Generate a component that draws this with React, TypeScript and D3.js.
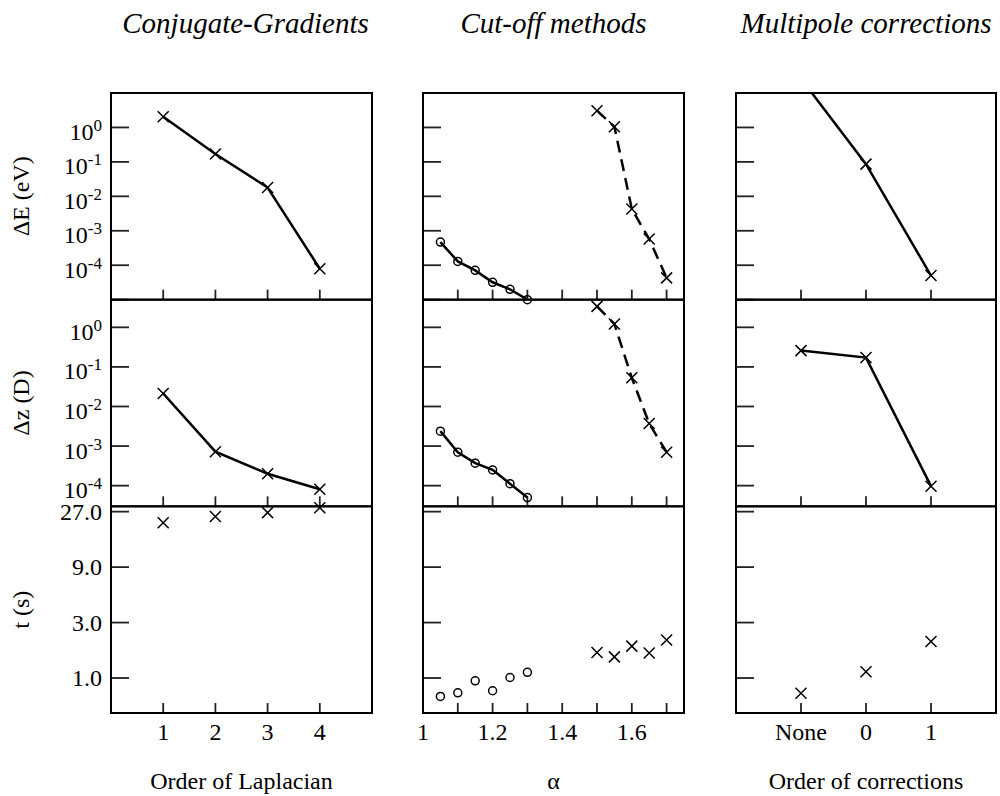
import React from "react";
import * as d3 from "d3";

// ---------- data ----------
const cgOrders = [1, 2, 3, 4];
const cgEnergy = [2.05, 0.17, 0.018, 7.9e-5];
const cgDipole = [0.0213, 7.2e-4, 2.0e-4, 8.1e-5];
const cgTime = [21.7, 24.5, 26.5, 29.2];

const cutAlphaLow = [1.05, 1.1, 1.15, 1.2, 1.25, 1.3];
const cutEnergyLow = [4.7e-4, 1.29e-4, 7.1e-5, 3.2e-5, 2.0e-5, 1.0e-5];
const cutDipoleLow = [2.38e-3, 7.0e-4, 3.7e-4, 2.5e-4, 1.12e-4, 5.0e-5];
const cutTimeLow = [0.695, 0.746, 0.946, 0.777, 1.01, 1.12];
const cutAlphaHigh = [1.5, 1.55, 1.6, 1.65, 1.7];
const cutEnergyHigh = [3.07, 1.05, 4.3e-3, 5.75e-4, 4.3e-5];
const cutDipoleHigh = [3.39, 1.22, 0.053, 3.7e-3, 7.0e-4];
const cutTimeHigh = [1.66, 1.52, 1.88, 1.64, 2.12];

const mpLabels = ["None", "0", "1"];
const mpPos = [1, 2, 3];
const mpEnergy = [26, 0.086, 5e-5];
const mpDipole = [0.258, 0.172, 9.7e-5];
const mpTime = [0.74, 1.13, 2.06];

const panelTitles = ["Conjugate-Gradients", "Cut-off methods", "Multipole corrections"];
const xTitles = ["Order of Laplacian", "α", "Order of corrections"];
const rowTitles = ["ΔE (eV)", "Δz (D)", "t (s)"];

const energyTicks = [10, 1, 0.1, 0.01, 1e-3, 1e-4, 1e-5];
const energyLabels = [
  { v: 1, e: "0" },
  { v: 0.1, e: "-1" },
  { v: 0.01, e: "-2" },
  { v: 1e-3, e: "-3" },
  { v: 1e-4, e: "-4" },
];
const dipoleTicks = [1, 0.1, 0.01, 1e-3, 1e-4];
const timeTicks = [27, 9, 3, 1];
const timeLabels = ["27.0", "9.0", "3.0", "1.0"];

const cgXTicks = [1, 2, 3, 4];
const cutXTicks = [1.1, 1.2, 1.3, 1.4, 1.5, 1.6, 1.7];
const cutXLabels = [1, 1.2, 1.4, 1.6];

// ---------- layout ----------
const FONT = "'Liberation Serif', 'Times New Roman', serif";
const TOP = 93;
const BOTTOM = 713;
const ROWH = (BOTTOM - TOP) / 3;
const panelsX: [number, number][] = [
  [111, 372],
  [423, 684],
  [736, 996],
];
const rowDomains: [number, number][] = [
  [1e-5, 10],
  [3e-5, 5],
  [0.5, 30],
];

const xScales = [
  d3.scaleLinear().domain([0, 5]).range(panelsX[0]),
  d3.scaleLinear().domain([1, 1.75]).range(panelsX[1]),
  d3.scaleLinear().domain([0, 4]).range(panelsX[2]),
];
const yScales = rowDomains.map((dom, r) =>
  d3.scaleLog().domain(dom).range([TOP + (r + 1) * ROWH, TOP + r * ROWH])
);

type Series = { xs: number[]; ys: number[]; marker: "x" | "o"; line: "solid" | "dash" | "none" };

const seriesFor = (p: number, r: number): Series[] => {
  if (p === 0) {
    const ys = [cgEnergy, cgDipole, cgTime][r];
    return [{ xs: cgOrders, ys, marker: "x", line: r === 2 ? "none" : "solid" }];
  }
  if (p === 1) {
    const lo = [cutEnergyLow, cutDipoleLow, cutTimeLow][r];
    const hi = [cutEnergyHigh, cutDipoleHigh, cutTimeHigh][r];
    return [
      { xs: cutAlphaLow, ys: lo, marker: "o", line: r === 2 ? "none" : "solid" },
      { xs: cutAlphaHigh, ys: hi, marker: "x", line: r === 2 ? "none" : "dash" },
    ];
  }
  const ys = [mpEnergy, mpDipole, mpTime][r];
  return [{ xs: mpPos, ys, marker: "x", line: r === 2 ? "none" : "solid" }];
};

const Cross = ({ x, y }: { x: number; y: number }) => {
  const s = 5.5;
  return (
    <path
      d={`M${x - s},${y - s}L${x + s},${y + s}M${x - s},${y + s}L${x + s},${y - s}`}
      stroke="#000"
      strokeWidth={1.5}
      fill="none"
    />
  );
};

export default function App() {
  const panels: JSX.Element[] = [];
  for (let p = 0; p < 3; p++) {
    const xs = xScales[p];
    const [x0, x1] = panelsX[p];
    for (let r = 0; r < 3; r++) {
      const ys = yScales[r];
      const yTop = TOP + r * ROWH;
      const yBot = TOP + (r + 1) * ROWH;
      const clipId = `clip-${p}-${r}`;
      const yTicks = [energyTicks, dipoleTicks, timeTicks][r];
      const xTicks = p === 0 ? cgXTicks : p === 1 ? cutXTicks : mpPos;
      const [dmin, dmax] = rowDomains[r];
      const lineGen = d3
        .line<[number, number]>()
        .x((d) => xs(d[0]))
        .y((d) => ys(d[1]));
      panels.push(
        <g key={`${p}-${r}`}>
          <defs>
            <clipPath id={clipId}>
              <rect x={x0} y={yTop} width={x1 - x0} height={yBot - yTop} />
            </clipPath>
          </defs>
          {/* left ticks */}
          {yTicks.map((t, i) => (
            <line
              key={`yt${i}`}
              x1={x0}
              x2={x0 + 18}
              y1={ys(t)}
              y2={ys(t)}
              stroke="#222"
              strokeWidth={1.8}
            />
          ))}
          {/* bottom ticks */}
          {xTicks.map((t, i) => (
            <line
              key={`xt${i}`}
              x1={xs(t)}
              x2={xs(t)}
              y1={yBot}
              y2={yBot - 10}
              stroke="#222"
              strokeWidth={1.8}
            />
          ))}
          {/* series lines */}
          {seriesFor(p, r).map((s, i) =>
            s.line === "none" ? null : (
              <path
                key={`l${i}`}
                d={lineGen(s.xs.map((x, k) => [x, s.ys[k]]) as [number, number][]) || ""}
                fill="none"
                stroke="#000"
                strokeWidth={2.5}
                strokeDasharray={s.line === "dash" ? "12,7" : undefined}
                clipPath={`url(#${clipId})`}
              />
            )
          )}
          {/* frame */}
          <rect
            x={x0}
            y={yTop}
            width={x1 - x0}
            height={yBot - yTop}
            fill="none"
            stroke="#000"
            strokeWidth={2}
          />
          {/* markers */}
          {seriesFor(p, r).map((s, i) =>
            s.xs.map((x, k) => {
              const v = s.ys[k];
              if (v < dmin * 0.999 || v > dmax) return null;
              const cx = xs(x);
              const cy = ys(v);
              return s.marker === "x" ? (
                <Cross key={`m${i}-${k}`} x={cx} y={cy} />
              ) : (
                <circle
                  key={`m${i}-${k}`}
                  cx={cx}
                  cy={cy}
                  r={4}
                  fill="none"
                  stroke="#000"
                  strokeWidth={1.5}
                />
              );
            })
          )}
        </g>
      );
    }
  }

  const yLab = yScales;
  return (
    <svg width={1000} height={796} style={{ display: "block", position: "absolute", left: 0, top: 0 }} fontFamily={FONT}>
      <rect width={1000} height={796} fill="#fff" />
      {panels}
      {/* panel titles */}
      {panelTitles.map((t, p) => (
        <text
          key={`pt${p}`}
          x={(panelsX[p][0] + panelsX[p][1]) / 2 + (p === 0 ? 4 : 0)}
          y={33}
          fontSize={29}
          fontStyle="italic"
          textAnchor="middle"
        >
          {t}
        </text>
      ))}
      {/* x titles */}
      {xTitles.map((t, p) => (
        <text
          key={`xt${p}`}
          x={(panelsX[p][0] + panelsX[p][1]) / 2}
          y={789}
          fontSize={24}
          textAnchor="middle"
        >
          {t}
        </text>
      ))}
      {/* row titles */}
      {rowTitles.map((t, r) => (
        <text
          key={`rt${r}`}
          transform={`translate(29,${TOP + (r + 0.5) * ROWH}) rotate(-90)`}
          fontSize={24}
          textAnchor="middle"
        >
          {t}
        </text>
      ))}
      {/* y tick labels */}
      {energyLabels.map((l, i) => (
        <text key={`el${i}`} x={102} y={yLab[0](l.v) + 12.5} fontSize={24} textAnchor="end">
          <tspan>10</tspan>
          <tspan dy={-9} fontSize={17}>
            {l.e}
          </tspan>
        </text>
      ))}
      {energyLabels.map((l, i) => (
        <text key={`dl${i}`} x={102} y={yLab[1](l.v) + 12.5} fontSize={24} textAnchor="end">
          <tspan>10</tspan>
          <tspan dy={-9} fontSize={17}>
            {l.e}
          </tspan>
        </text>
      ))}
      {timeTicks.map((t, i) => (
        <text key={`tl${i}`} x={102} y={yLab[2](t) + 8} fontSize={24} textAnchor="end">
          {timeLabels[i]}
        </text>
      ))}
      {/* x tick labels */}
      {cgXTicks.map((t, i) => (
        <text key={`cx${i}`} x={xScales[0](t)} y={740} fontSize={24} textAnchor="middle">
          {t}
        </text>
      ))}
      {cutXLabels.map((t, i) => (
        <text key={`ux${i}`} x={xScales[1](t)} y={740} fontSize={24} textAnchor="middle">
          {t === 1 ? "1" : t.toFixed(1)}
        </text>
      ))}
      {mpPos.map((t, i) => (
        <text key={`mx${i}`} x={xScales[2](t)} y={740} fontSize={24} textAnchor="middle">
          {mpLabels[i]}
        </text>
      ))}
    </svg>
  );
}
